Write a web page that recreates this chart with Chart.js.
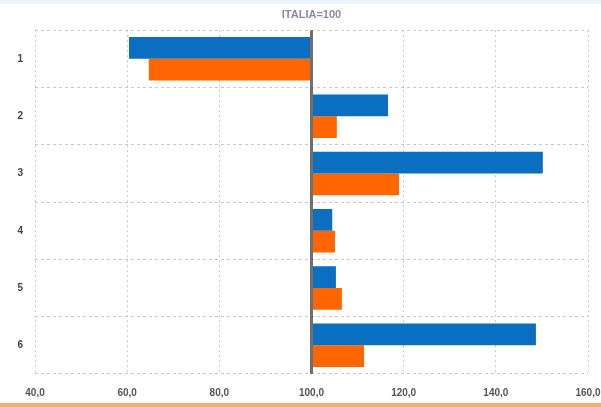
<!DOCTYPE html>
<html lang="it">
<head>
    <meta charset="UTF-8">
    <title>ITALIA=100</title>
    <script src="https://cdn.jsdelivr.net/npm/chart.js"></script>
    <style>
        body {
            margin: 0;
            background: #fff;
        }

        #wrap {
            position: relative;
            width: 601px;
            height: 407px;
            /* thin tinted strip on top, orange rule at the bottom like the original frame */
            background: linear-gradient(to bottom, #eef4fb 0, #eef4fb 4px, #fff 4px, #fff 403px, #f6ad74 403px, #f6ad74 407px);
        }

        canvas {
            position: absolute;
            left: 0;
            top: 0;
        }
    </style>
</head>
<body>
    <div id="wrap">
        <canvas id="myChart" width="601" height="407"></canvas>
    </div>

    <script>
        // categories and the two series (index numbers, Italy = 100)
        const categories = ['1', '2', '3', '4', '5', '6'];
        const seriesBlue = [60.4, 116.6, 150.2, 104.5, 105.3, 148.7];
        const seriesOrange = [64.7, 105.5, 119.0, 105.1, 106.6, 111.4];
        const baseValue = 100;
        const xTicks = [40, 60, 80, 100, 120, 140, 160];

        // thick grey line at the Italy=100 reference
        const baseLine = {
            id: 'baseLine',
            afterDatasetsDraw(chart) {
                let x = chart.scales.x.getPixelForValue(baseValue);
                let area = chart.chartArea;
                let ctx = chart.ctx;
                ctx.save();
                ctx.strokeStyle = '#6f6f6f';
                ctx.lineWidth = 3;
                ctx.beginPath();
                ctx.moveTo(x, area.top);
                ctx.lineTo(x, area.bottom);
                ctx.stroke();
                ctx.restore();
            }
        };

        let ctx = document.getElementById('myChart').getContext('2d');
        let chart = new Chart(ctx, {
            type: 'bar',
            data: {
                labels: categories,
                datasets: [{
                    data: seriesBlue,
                    base: baseValue,
                    backgroundColor: '#0a6fc0',
                    categoryPercentage: 0.76,
                    barPercentage: 1.0
                },
                {
                    data: seriesOrange,
                    base: baseValue,
                    backgroundColor: '#ff6500',
                    categoryPercentage: 0.76,
                    barPercentage: 1.0
                }]
            },
            options: {
                indexAxis: 'y',
                responsive: false,
                animation: false,
                layout: {
                    padding: { left: 0, right: 13, top: 0, bottom: 0 }
                },
                scales: {
                    x: {
                        min: 40,
                        max: 160,
                        afterBuildTicks: function(scale) {
                            scale.ticks = xTicks.map(v => ({ value: v }));
                        },
                        afterFit: function(scale) {
                            scale.height = 33;
                            scale.paddingLeft = 0;   // let the end labels run off the edge
                            scale.paddingRight = 0;
                        },
                        grid: {
                            color: '#c9c9c9',
                            lineWidth: 1,
                            drawTicks: false
                        },
                        border: { display: false, dash: [2, 3] },
                        ticks: {
                            padding: 13,
                            color: '#555555',
                            font: { family: 'Liberation Sans', size: 10, weight: 'bold' },
                            callback: function(value) {
                                return value.toFixed(1).replace('.', ',');
                            }
                        }
                    },
                    y: {
                        afterFit: function(scale) {
                            scale.width = 35;
                        },
                        grid: {
                            color: '#c9c9c9',
                            lineWidth: 1,
                            drawTicks: false
                        },
                        border: { display: false, dash: [3, 3] },
                        ticks: {
                            padding: 12,
                            color: '#444444',
                            font: { family: 'Liberation Sans', size: 10, weight: 'bold' }
                        }
                    }
                },
                plugins: {
                    legend: { display: false },
                    tooltip: { enabled: false },
                    title: {
                        display: true,
                        text: 'ITALIA=100',
                        fullSize: false,
                        color: '#8a8aaa',
                        font: { family: 'Liberation Sans', size: 11, weight: 'bold' },
                        padding: { top: 8, bottom: 9 }
                    }
                }
            },
            plugins: [baseLine]
        });
    </script>
</body>
</html>
